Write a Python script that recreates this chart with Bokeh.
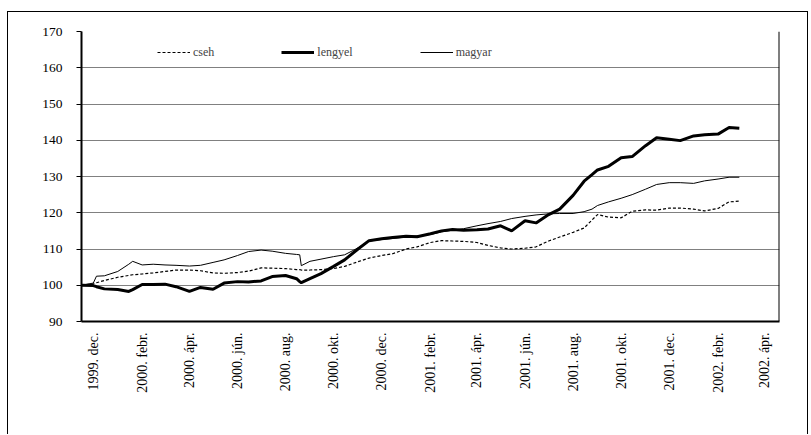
import pandas as pd
from math import pi
from bokeh.plotting import figure
from bokeh.models import FixedTicker, Span, Legend, LegendItem, Range1d
from bokeh.embed import file_html
from bokeh.resources import INLINE

dates = ["1999-11-16", "1999-12-01", "1999-12-05", "1999-12-15",
         "2000-01-01", "2000-01-15", "2000-01-20", "2000-02-01", "2000-02-15",
         "2000-03-01", "2000-03-15", "2000-04-01", "2000-04-15", "2000-05-01",
         "2000-05-15", "2000-06-01", "2000-06-15", "2000-07-01", "2000-07-15",
         "2000-08-01", "2000-08-15", "2000-08-19", "2000-08-21", "2000-09-01",
         "2000-09-15", "2000-10-01", "2000-10-15", "2000-11-01", "2000-11-15",
         "2000-12-01", "2000-12-15",
         "2001-01-01", "2001-01-15", "2001-02-01", "2001-02-15", "2001-03-01",
         "2001-03-15", "2001-04-01", "2001-04-15", "2001-05-01", "2001-05-15",
         "2001-06-01", "2001-06-15", "2001-07-01", "2001-07-15", "2001-08-01",
         "2001-08-15", "2001-08-25", "2001-09-01", "2001-09-15", "2001-10-01",
         "2001-10-15", "2001-11-01", "2001-11-15", "2001-12-01", "2001-12-15",
         "2002-01-01", "2002-01-15", "2002-02-01", "2002-02-15", "2002-02-28"]

cseh = [100.0, 100.4, 100.7, 101.3,
        102.2, 102.7, 102.9, 103.1, 103.4,
        103.8, 104.2, 104.2, 104.0, 103.4,
        103.3, 103.5, 103.9, 104.8, 104.7,
        104.6, 104.3, 104.3, 104.2, 104.2,
        104.3, 104.6, 105.2, 106.5, 107.5,
        108.2, 108.7,
        110.0, 110.6, 111.8, 112.3, 112.2,
        112.1, 111.8, 111.0, 110.3, 110.0,
        110.2, 110.6, 112.2, 113.3, 114.6,
        115.8, 118.0, 119.5, 118.8, 118.6,
        120.4, 120.8, 120.7, 121.3, 121.3,
        121.0, 120.5, 121.2, 123.0, 123.2]

lengyel = [100.0, 99.9, 99.6, 99.0,
           98.8, 98.3, 98.8, 100.2, 100.2,
           100.3, 99.6, 98.3, 99.4, 98.9,
           100.6, 101.0, 100.9, 101.2, 102.4,
           102.7, 101.8, 101.0, 100.7, 101.8,
           103.2, 105.2, 107.0, 110.0, 112.3,
           112.8, 113.2,
           113.5, 113.4, 114.2, 115.0, 115.4,
           115.2, 115.3, 115.5, 116.4, 115.0,
           117.8, 117.2, 119.5, 121.0, 124.8,
           128.7, 130.5, 131.8, 132.8, 135.2,
           135.5, 138.5, 140.7, 140.3, 139.9,
           141.2, 141.5, 141.7, 143.5, 143.3]

magyar = [100.0, 100.6, 102.5, 102.6,
          103.8, 105.8, 106.6, 105.6, 105.8,
          105.6, 105.5, 105.3, 105.5, 106.3,
          107.0, 108.2, 109.3, 109.7, 109.4,
          108.8, 108.5, 108.4, 105.4, 106.6,
          107.2, 107.9, 108.4, 110.3, 112.2,
          112.6, 112.9,
          113.3, 113.6, 114.0, 114.7, 115.2,
          115.6, 116.4, 117.0, 117.6, 118.4,
          119.0, 119.4, 119.7, 119.8, 119.8,
          120.3, 121.0, 122.0, 123.0, 124.0,
          125.0, 126.5, 127.8, 128.3, 128.3,
          128.1, 128.8, 129.3, 129.8, 129.8]

tick_dates = ["1999-12-01", "2000-02-01", "2000-04-01", "2000-06-01",
              "2000-08-01", "2000-10-01", "2000-12-01", "2001-02-01",
              "2001-04-01", "2001-06-01", "2001-08-01", "2001-10-01",
              "2001-12-01", "2002-02-01", "2002-04-01"]
tick_labels = ["1999. dec.", "2000. febr.", "2000. ápr.", "2000. jún.",
               "2000. aug.", "2000. okt.", "2000. dec.", "2001. febr.",
               "2001. ápr.", "2001. jún.", "2001. aug.", "2001. okt.",
               "2001. dec.", "2002. febr.", "2002. ápr."]
y_ticks = [90, 100, 110, 120, 130, 140, 150, 160, 170]
x_start, x_end = "1999-11-16", "2002-04-20"


def ms(s):
    return int(pd.Timestamp(s).value // 10**6)


x = [ms(d) for d in dates]
x_ticks = [ms(d) for d in tick_dates]
FONT = "'Liberation Serif', serif"

p = figure(width=801, height=423, output_backend="svg", toolbar_location=None,
           x_range=Range1d(ms(x_start), ms(x_end)), y_range=Range1d(90, 170),
           min_border_left=74, min_border_right=29, min_border_top=20,
           min_border_bottom=113)
p.margin = (11, 0, 0, 7)
p.outline_line_color = None
p.border_fill_alpha = 0
p.styles = {"box-shadow": "inset 1px 1px 0 0 #000000, inset -1px 0 0 0 #000000"}

# y axis
p.yaxis.ticker = FixedTicker(ticks=y_ticks)
p.yaxis.axis_line_color = "black"
p.yaxis.axis_line_width = 2
p.yaxis.major_tick_out = 5
p.yaxis.major_tick_in = 0
p.yaxis.major_tick_line_color = "black"
p.yaxis.minor_tick_line_color = None
p.yaxis.major_label_text_font = FONT
p.yaxis.major_label_text_font_size = "13.5px"
p.yaxis.major_label_text_color = "black"
p.yaxis.major_label_standoff = 14

# x axis
p.xaxis.ticker = FixedTicker(ticks=x_ticks)
p.xaxis.major_label_overrides = dict(zip(x_ticks, tick_labels))
p.xaxis.major_label_orientation = pi / 2
p.xaxis.axis_line_color = "black"
p.xaxis.axis_line_width = 2
p.xaxis.major_tick_line_color = None
p.xaxis.major_tick_out = 0
p.xaxis.major_tick_in = 0
p.xaxis.minor_tick_line_color = None
p.xaxis.major_label_standoff = 11
p.xaxis.major_label_text_font = FONT
p.xaxis.major_label_text_font_size = "14px"
p.xaxis.major_label_text_color = "black"

p.xgrid.visible = False
p.ygrid.ticker = FixedTicker(ticks=y_ticks)
p.ygrid.grid_line_color = "#808080"
p.ygrid.grid_line_width = 1

p.add_layout(Span(location=ms(x_end), dimension="height",
                  line_color="black", line_width=2))

r1 = p.line(x, cseh, line_color="black", line_width=1.2, line_dash="3 2")
r2 = p.line(x, lengyel, line_color="black", line_width=3)
r3 = p.line(x, magyar, line_color="black", line_width=1)

legend = Legend(items=[LegendItem(label="cseh", renderers=[r1]),
                       LegendItem(label="lengyel", renderers=[r2]),
                       LegendItem(label="magyar", renderers=[r3])],
                orientation="horizontal", location=(76, 259),
                spacing=67, padding=0, margin=0, glyph_width=33,
                glyph_height=20, label_standoff=3,
                label_text_font=FONT, label_text_font_size="12px",
                border_line_alpha=0, background_fill_alpha=0)
p.add_layout(legend)

open("out.html", "w").write(file_html(p, INLINE))
